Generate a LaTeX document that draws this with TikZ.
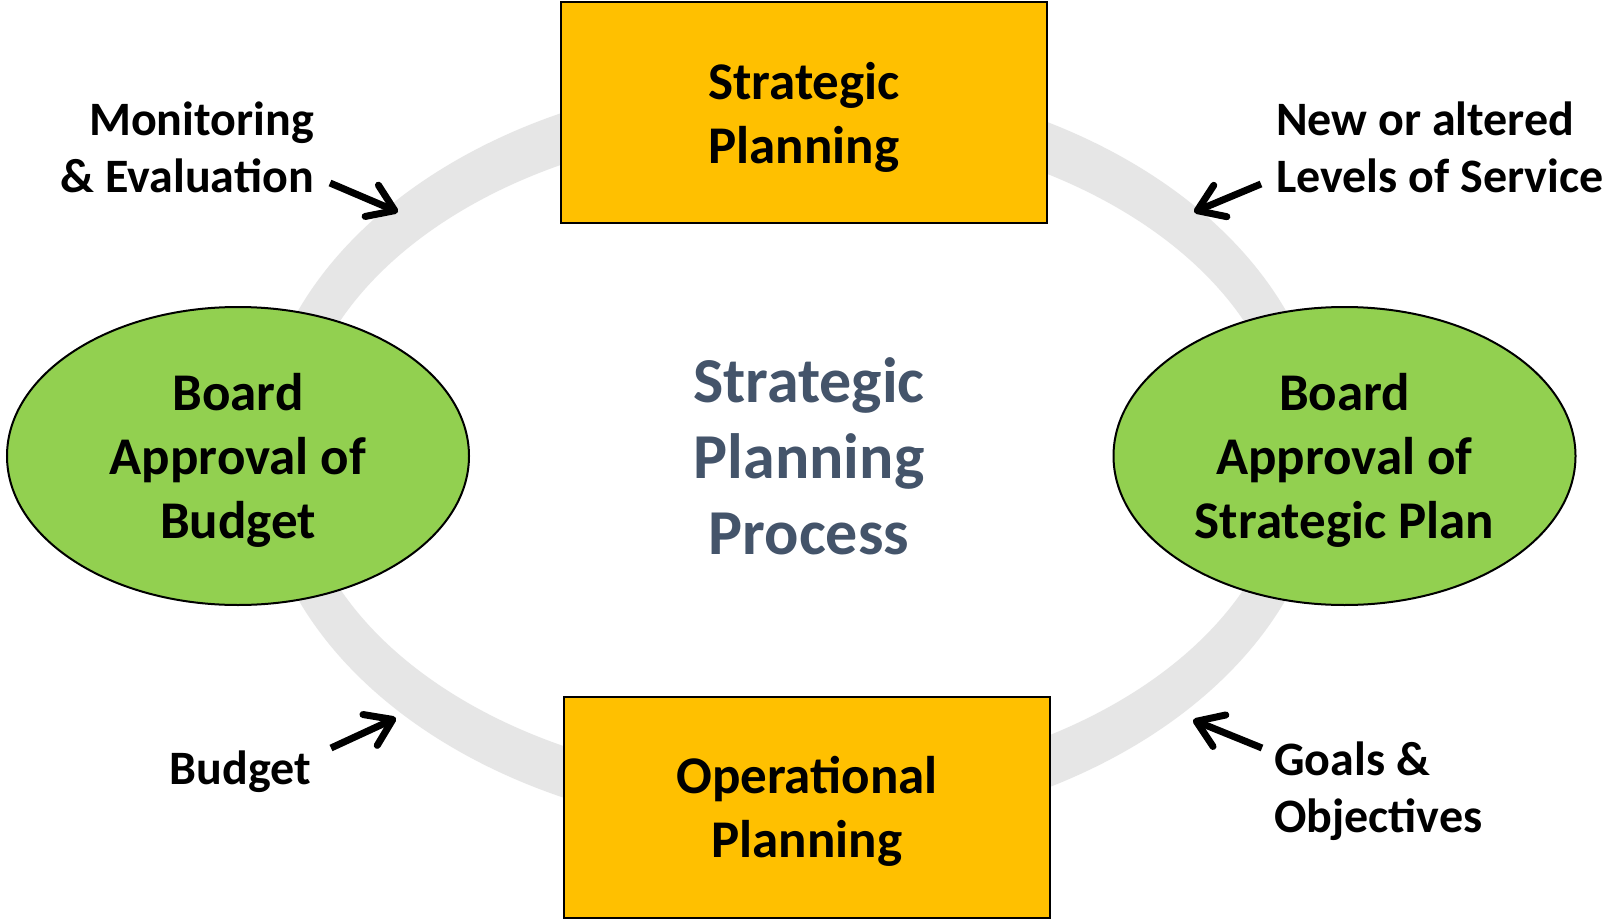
\documentclass[tikz,border=0pt]{standalone}
\usepackage{fontspec}
\setmainfont{Carlito}
\usetikzlibrary{shapes.geometric,arrows.meta}
\definecolor{boxgold}{HTML}{FFC000}
\definecolor{ovalgreen}{HTML}{92D050}
\definecolor{ringgray}{HTML}{E6E6E6}
\definecolor{slate}{HTML}{44546A}
\tikzset{
  boxnode/.style={draw=black, line width=2pt, fill=boxgold, minimum width=486pt, minimum height=221pt, inner sep=0pt, align=center, text depth=0pt, font=\fontsize{53}{64}\selectfont\bfseries},
  ovalnode/.style={ellipse, draw=black, line width=2pt, fill=ovalgreen, minimum width=462pt, minimum height=298pt, inner sep=0pt, align=center, text depth=0pt, font=\fontsize{53}{64}\selectfont\bfseries},
  titlenode/.style={inner sep=0pt, align=center, text=slate, font=\fontsize{64}{76}\selectfont\bfseries},
  lblnode/.style={inner sep=0pt, font=\fontsize{48}{57}\selectfont\bfseries},
  inarrow/.style={line width=7pt, -{Straight Barb[length=25pt,width=34pt,round]}}
}
\begin{document}
\begin{tikzpicture}[x=1pt,y=-1pt]
\useasboundingbox (0,0) rectangle (1614,923);
\fill[white] (0,0) rectangle (1614,923);
% ring
\fill[ringgray, even odd rule] (792,455) ellipse [x radius=534pt, y radius=379pt]
                               (792,455) ellipse [x radius=495pt, y radius=328pt];
% main nodes
\node[boxnode] (sp) at (804,112.5) {Strategic\\Planning};
\node[boxnode] (op) at (807,807) {Operational\\Planning};
\node[ovalnode] (bb) at (238,456) {Board\\Approval of\\Budget};
\node[ovalnode] (bs) at (1344.5,456) {Board\\Approval of\\Strategic Plan};
\node[titlenode] (spp) at (809,456) {Strategic\\Planning\\Process};
% labels
\node[lblnode, anchor=east, align=right] (mon) at (314,147) {Monitoring\\\& Evaluation};
\node[lblnode, anchor=west, align=left] (los) at (1276,147) {New or altered\\Levels of Service};
\node[lblnode, anchor=base east] (bud) at (311,784) {Budget};
\node[lblnode, anchor=west, align=left] (goa) at (1274,791) {Goals \&\\Objectives};
% arrows
\coordinate (m1) at (330,183); \coordinate (m2) at (398,212);
\coordinate (l1) at (1261,184); \coordinate (l2) at (1194,212);
\coordinate (b1) at (331,748); \coordinate (b2) at (396,718);
\coordinate (g1) at (1262,748); \coordinate (g2) at (1193,720);
\draw[inarrow] (m1) -- (m2);
\draw[inarrow] (l1) -- (l2);
\draw[inarrow] (b1) -- (b2);
\draw[inarrow] (g1) -- (g2);
\end{tikzpicture}
\end{document}
